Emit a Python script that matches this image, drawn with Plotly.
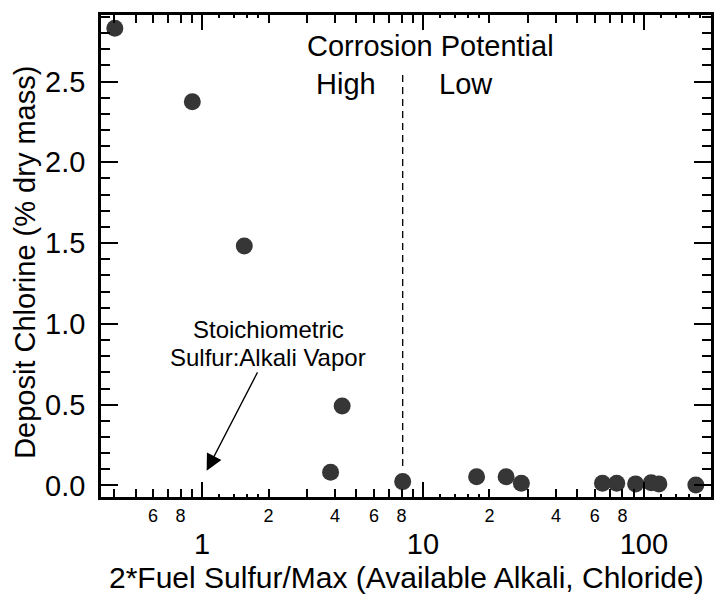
import numpy as np
import plotly.graph_objects as go

# ---- data ----
ratio = [0.403, 0.904, 1.554, 4.31, 3.82, 8.1, 17.5, 23.8, 27.9, 65.0, 75.4, 91.8, 108, 117, 172]
chlorine = [2.829, 2.375, 1.482, 0.492, 0.082, 0.024, 0.054, 0.054, 0.014, 0.014, 0.014, 0.010, 0.017, 0.010, 0.003]

threshold_x = 8.1
threshold_y = [0.12, 2.56]

x_major = [1, 10, 100]
x_major_text = ["1", "10", "100"]
x_minor = [0.4, 0.5, 0.6, 0.7, 0.8, 0.9, 2, 3, 4, 5, 6, 7, 8, 9,
           20, 30, 40, 50, 60, 70, 80, 90, 200]
x_sub = [1.2, 1.4, 1.6, 1.8, 12, 14, 16, 18, 120, 140, 160, 180]
x_minor_lab = [0.6, 0.8, 2, 4, 6, 8, 20, 40, 60, 80]
x_minor_lab_text = ["6", "8", "2", "4", "6", "8", "2", "4", "6", "8"]

y_major = [0.0, 0.5, 1.0, 1.5, 2.0, 2.5]
y_minor = [round(0.1 * i, 1) for i in range(0, 30) if i % 5 != 0]

arrow_tip = (1.05, 0.092)
arrow_tail = (1.797, 0.709)

FONT = "Liberation Sans, Arial, Helvetica, sans-serif"
XR = [-0.4572, 2.3041]
YR = [-0.0712, 2.9115]

fig = go.Figure()
fig.add_trace(go.Scatter(
    x=[threshold_x, threshold_x], y=threshold_y, mode="lines",
    line=dict(color="black", width=1.3, dash="7px,5px"), showlegend=False, hoverinfo="skip"))
fig.add_trace(go.Scatter(
    x=ratio, y=chlorine, mode="markers",
    marker=dict(size=17, color="#363636", line=dict(width=0)), showlegend=False))
fig.add_trace(go.Scatter(x=[], y=[], xaxis="x2", showlegend=False))

axis_common = dict(showline=True, linecolor="black", linewidth=2.5, mirror="ticks",
                   ticks="inside", tickcolor="black", tickwidth=2, showgrid=False,
                   zeroline=False)

fig.update_layout(
    width=715, height=595,
    margin=dict(l=101, r=1, t=15, b=98),
    paper_bgcolor="white", plot_bgcolor="white",
    font=dict(family=FONT, color="black"),
    xaxis=dict(type="log", range=XR, tickmode="array", tickvals=x_major, ticktext=x_major_text,
               ticklen=15, tickfont=dict(size=29), ticklabelstandoff=19,
               minor=dict(tickmode="array", tickvals=x_minor, ticks="inside", ticklen=8,
                          tickcolor="black", tickwidth=2),
               **axis_common),
    xaxis2=dict(type="log", range=XR, overlaying="x", anchor="y", side="bottom",
                tickmode="array", tickvals=x_minor_lab, ticktext=x_minor_lab_text,
                ticks="inside", ticklen=0, tickfont=dict(size=18), ticklabelstandoff=6,
                showline=False, showgrid=False, zeroline=False, mirror="ticks",
                minor=dict(tickmode="array", tickvals=x_sub, ticks="inside", ticklen=3,
                           tickcolor="black", tickwidth=2)),
    yaxis=dict(range=YR, tickmode="array", tickvals=y_major,
               ticktext=[f"{v:.1f}" for v in y_major],
               ticklen=17, tickfont=dict(size=29), ticklabelstandoff=7,
               minor=dict(tickmode="array", tickvals=y_minor, ticks="inside", ticklen=9,
                          tickcolor="black", tickwidth=2),
               **axis_common),
)

ann = []
ann.append(dict(text="2*Fuel Sulfur/Max (Available Alkali, Chloride)", xref="paper", yref="paper",
                x=0.5, y=-0.168, xanchor="center", yanchor="middle", showarrow=False,
                font=dict(size=30)))
ann.append(dict(text="Deposit Chlorine (% dry mass)", xref="paper", yref="paper",
                x=-0.1248, y=0.4876, xanchor="center", yanchor="middle", textangle=-90,
                showarrow=False, font=dict(size=29)))
ann.append(dict(text="Corrosion Potential", xref="paper", yref="paper", x=0.5395, y=0.9357,
                xanchor="center", yanchor="middle", showarrow=False, font=dict(size=29)))
ann.append(dict(text="High", xref="paper", yref="paper", x=0.4021, y=0.8568,
                xanchor="center", yanchor="middle", showarrow=False, font=dict(size=29)))
ann.append(dict(text="Low", xref="paper", yref="paper", x=0.5979, y=0.8568,
                xanchor="center", yanchor="middle", showarrow=False, font=dict(size=29)))
ann.append(dict(text="Stoichiometric", xref="paper", yref="paper", x=0.2741, y=0.3465,
                xanchor="center", yanchor="middle", showarrow=False, font=dict(size=24)))
ann.append(dict(text="Sulfur:Alkali Vapor", xref="paper", yref="paper", x=0.2741, y=0.2895,
                xanchor="center", yanchor="middle", showarrow=False, font=dict(size=24)))
ann.append(dict(text="", xref="x", yref="y", x=np.log10(arrow_tip[0]), y=arrow_tip[1],
                axref="x", ayref="y", ax=np.log10(arrow_tail[0]), ay=arrow_tail[1],
                showarrow=True, arrowhead=2, arrowsize=2.5, arrowwidth=1.3,
                arrowcolor="black", standoff=0, startstandoff=0))
fig.update_layout(annotations=ann)

fig.write_html("out.html")
